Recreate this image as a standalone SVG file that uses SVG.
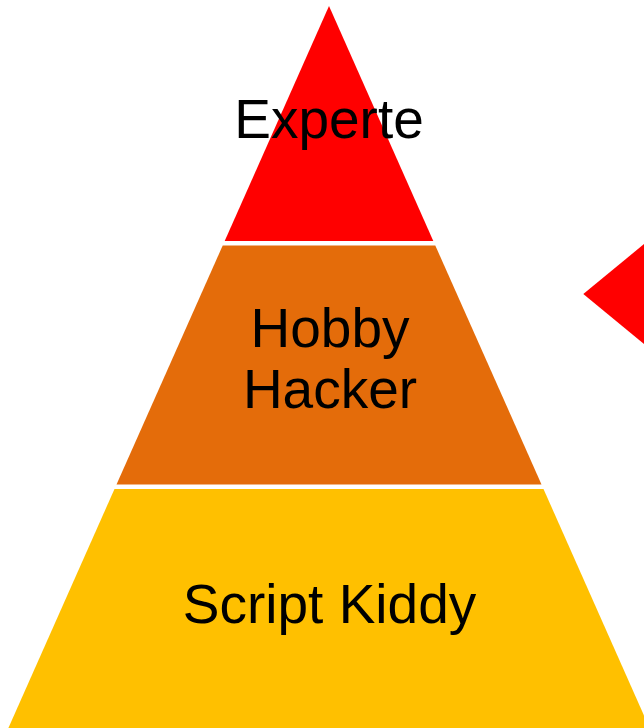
<svg xmlns="http://www.w3.org/2000/svg" width="644" height="728" viewBox="0 0 644 728">
<style>
text{font-family:"Liberation Sans",Arial,sans-serif;font-size:55px;fill:#000;text-anchor:middle}
</style>
<rect width="644" height="728" fill="#fff"/>
<g id="level-expert">
<polygon points="329,6 433.3,241 224.7,241" fill="#FF0000"/>
<text x="329" y="137.5">Experte</text>
</g>
<g id="level-hobby">
<polygon points="222.7,245.5 435.3,245.5 541.5,484.5 116.5,484.5" fill="#E46C0A"/>
<text x="330" y="346.7">Hobby</text>
<text x="330" y="408.3">Hacker</text>
</g>
<g id="level-script">
<polygon points="114.5,489 543.5,489 649.6,728 8.4,728" fill="#FFC000"/>
<text x="329.5" y="622.7">Script Kiddy</text>
</g>
<g id="connectors">
<polygon points="583.3,294 700,198 700,390" fill="#FF0000"/>
</g>
</svg>
